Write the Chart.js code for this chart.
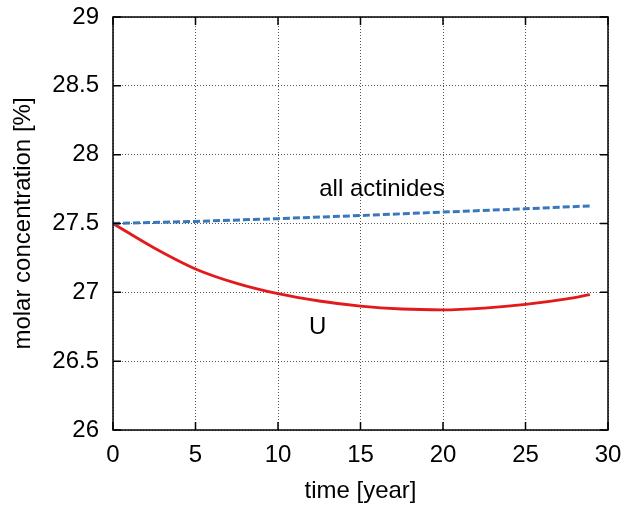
<!DOCTYPE html>
<html>
<head>
<meta charset="utf-8">
<script src="https://cdn.jsdelivr.net/npm/chart.js@4.4.1/dist/chart.umd.min.js"></script>
<style>
  html, body { margin: 0; padding: 0; background: #fff; }
  #wrap { width: 626px; height: 506px; }
</style>
</head>
<body>
<div id="wrap"><canvas id="c" width="626" height="506"></canvas></div>
<script>
// values
const uTime = [0, 2.5, 5, 7.5, 10, 12.5, 15, 17.5, 20, 22.5, 25, 27.5, 28.9];
const uConc = [27.50, 27.322, 27.17, 27.065, 26.99, 26.937, 26.90, 26.879, 26.873, 26.886, 26.912, 26.952, 26.983];
const actTime = [0, 5, 10, 15, 20, 25, 28.9];
const actConc = [27.50, 27.515, 27.535, 27.558, 27.583, 27.607, 27.628];

const xTicks = [0, 5, 10, 15, 20, 25, 30];
const yTicks = [26, 26.5, 27, 27.5, 28, 28.5, 29];

const labels = [
    { text: 'all actinides', x: 16.3, y: 27.75 },
    { text: 'U', x: 12.4, y: 26.745 }
];

const FONT = 'Liberation Sans, Arial, Helvetica, sans-serif';
const FSIZE = 24;

function toPoints(xs, ys) {
    return xs.map((x, i) => ({ x: x, y: ys[i] }));
}

// gnuplot-like frame: box on all four sides with inward tick marks
const framePlugin = {
    id: 'frame',
    afterDatasetsDraw(chart) {
        const { ctx, chartArea: a, scales } = chart;
        ctx.save();
        ctx.strokeStyle = '#000';
        ctx.lineWidth = 1.5;
        ctx.strokeRect(a.left, a.top, a.right - a.left, a.bottom - a.top);
        const len = 8;
        ctx.beginPath();
        xTicks.forEach(v => {
            const px = scales.x.getPixelForValue(v);
            ctx.moveTo(px, a.bottom); ctx.lineTo(px, a.bottom - len);
            ctx.moveTo(px, a.top); ctx.lineTo(px, a.top + len);
        });
        yTicks.forEach(v => {
            const py = scales.y.getPixelForValue(v);
            ctx.moveTo(a.left, py); ctx.lineTo(a.left + len, py);
            ctx.moveTo(a.right, py); ctx.lineTo(a.right - len, py);
        });
        ctx.stroke();

        // in-plot curve labels
        ctx.fillStyle = '#000';
        ctx.font = FSIZE + 'px ' + FONT;
        ctx.textAlign = 'center';
        ctx.textBaseline = 'middle';
        labels.forEach(l => {
            ctx.fillText(l.text, scales.x.getPixelForValue(l.x), scales.y.getPixelForValue(l.y));
        });
        ctx.restore();
    }
};

new Chart(document.getElementById('c'), {
    type: 'scatter',
    data: {
        datasets: [
            {
                label: 'all actinides',
                data: toPoints(actTime, actConc),
                showLine: true,
                borderColor: '#3a78be',
                borderWidth: 3,
                borderDash: [7, 3],
                pointRadius: 0,
                tension: 0
            },
            {
                label: 'U',
                data: toPoints(uTime, uConc),
                showLine: true,
                borderColor: '#e31a1c',
                borderWidth: 2.8,
                pointRadius: 0,
                cubicInterpolationMode: 'monotone'
            }
        ]
    },
    options: {
        responsive: false,
        animation: false,
        layout: { padding: { top: 17, right: 18, left: 0, bottom: 0 } },
        plugins: {
            legend: { display: false },
            tooltip: { enabled: false }
        },
        scales: {
            x: {
                type: 'linear',
                min: 0,
                max: 30,
                afterBuildTicks: s => { s.ticks = xTicks.map(v => ({ value: v })); },
                afterFit: s => { s.height = 76; s.paddingLeft = 0; s.paddingRight = 0; },
                ticks: { color: '#000', padding: 11, font: { family: FONT, size: FSIZE }, callback: v => String(v) },
                grid: { color: '#555', lineWidth: 1, drawTicks: false },
                border: { display: false, dash: [1, 2] },
                title: {
                    display: true,
                    text: 'time [year]',
                    color: '#000',
                    font: { family: FONT, size: FSIZE },
                    padding: { top: 4, bottom: 0 }
                }
            },
            y: {
                type: 'linear',
                min: 26,
                max: 29,
                afterBuildTicks: s => { s.ticks = yTicks.map(v => ({ value: v })); },
                afterFit: s => { s.width = 113; s.paddingTop = 0; s.paddingBottom = 0; },
                ticks: { color: '#000', padding: 14, font: { family: FONT, size: FSIZE }, callback: v => String(v) },
                grid: { color: '#555', lineWidth: 1, drawTicks: false },
                border: { display: false, dash: [1, 2] },
                title: {
                    display: true,
                    text: 'molar concentration [%]',
                    color: '#000',
                    font: { family: FONT, size: FSIZE },
                    padding: { top: 9, bottom: 4 }
                }
            }
        }
    },
    plugins: [framePlugin]
});
</script>
</body>
</html>
